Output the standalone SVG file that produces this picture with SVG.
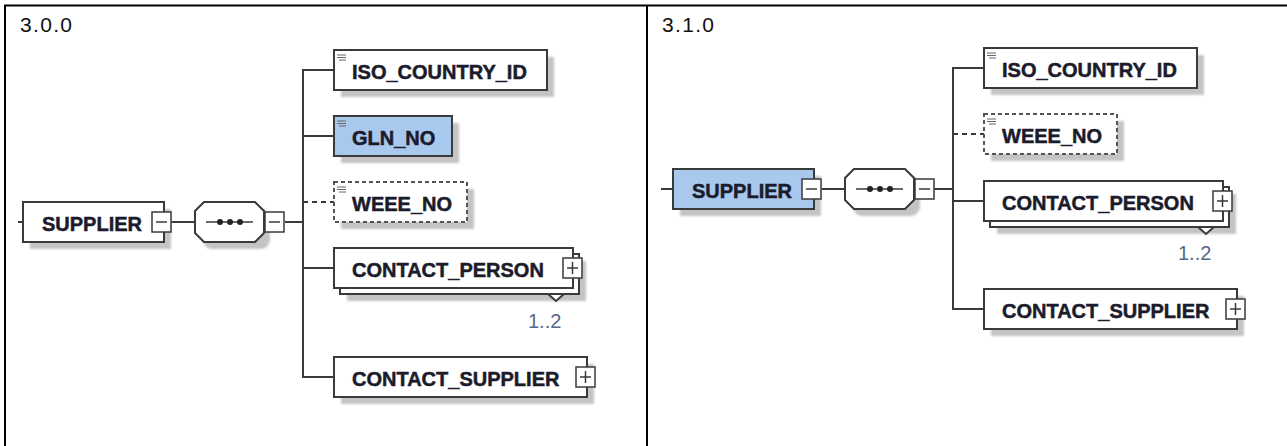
<svg xmlns="http://www.w3.org/2000/svg" width="1287" height="446" viewBox="0 0 1287 446">
  <style>
    .frame{fill:none;stroke:#000;stroke-width:2}
    .ver{font-family:"Liberation Sans",Arial,sans-serif;font-size:21px;fill:#111}
    .box{fill:#fff;stroke:#3a3a3a;stroke-width:2}
    .sel{fill:#a8c8ee}
    .opt{stroke-dasharray:4 3;stroke:#555}
    .sh{fill:#c4c4c4;filter:url(#soft)}
    .lbl{font-family:"Liberation Sans",Arial,sans-serif;font-weight:bold;font-size:20px;fill:#1b1b2b;stroke:#1b1b2b;stroke-width:0.5}
    .occ{font-family:"Liberation Sans",Arial,sans-serif;font-size:20px;fill:#56688a}
    .wire{fill:none;stroke:#3a3a3a;stroke-width:2}
    .dash{stroke-dasharray:5 4}
    .btn{fill:#fff;stroke:#3a3a3a;stroke-width:1.5}
    .sign{fill:none;stroke:#3a3a3a;stroke-width:1.5}
    .ico{fill:none;stroke:#666;stroke-width:1}
    .dot{fill:#222}
  </style>
  <defs>
    <filter id="soft" x="-10%" y="-20%" width="120%" height="140%">
      <feGaussianBlur stdDeviation="1.3"/>
    </filter>
    <g id="minus">
      <rect x="0" y="0" width="19" height="20" class="btn"/>
      <path d="M4 10H15" class="sign"/>
    </g>
    <g id="plus">
      <rect x="0" y="0" width="19" height="20" class="btn"/>
      <path d="M4 10H15M9.5 4V16" class="sign"/>
    </g>
    <path id="simple" d="M0 0h9M0 2.5h9M2 5h7" class="ico"/>
    <g id="seq">
      <polygon points="9,0 60,0 69,9 69,31 60,40 9,40 0,31 0,9" class="box"/>
      <path d="M11 20H58" class="sign"/>
      <circle cx="25" cy="20" r="3" class="dot"/>
      <circle cx="35" cy="20" r="3" class="dot"/>
      <circle cx="45" cy="20" r="3" class="dot"/>
    </g>
  </defs>

  <!-- table frame -->
  <g id="table">
    <path d="M4 5.5H1287M5 5V446M647 5V446" class="frame"/>
    <text x="20" y="32" class="ver" textLength="52">3.0.0</text>
    <text x="662" y="32" class="ver" textLength="52">3.1.0</text>
  </g>

  <!-- connectors -->
  <g id="connectors">
    <!-- version 3.0.0 -->
    <path d="M18 222H23M171 222H195M285 222H303" class="wire"/>
    <path d="M334 70H303V377H334M303 136H334M303 268H334" class="wire"/>
    <path d="M303 202H334" class="wire dash"/>
    <!-- version 3.1.0 -->
    <path d="M661 189H673M821 189H845M934 189H953" class="wire"/>
    <path d="M984 68H953V309H984M953 201H984" class="wire"/>
    <path d="M953 134H984" class="wire dash"/>
  </g>

  <!-- ===== 3.0.0 ===== -->
  <g id="v300-supplier">
    <rect x="30" y="209" width="141" height="40" class="sh"/>
    <rect x="23" y="202" width="141" height="40" class="box"/>
    <text x="42" y="230.5" class="lbl">SUPPLIER</text>
    <use href="#minus" x="152" y="212"/>
  </g>
  <g id="v300-sequence">
    <rect x="203" y="209" width="67" height="40" rx="9" class="sh"/>
    <use href="#seq" x="195" y="202"/>
    <use href="#minus" x="265" y="212"/>
  </g>
  <g id="v300-iso">
    <rect x="341" y="57" width="213" height="40" class="sh"/>
    <rect x="334" y="50" width="213" height="40" class="box"/>
    <use href="#simple" x="337" y="55"/>
    <text x="352" y="78.5" class="lbl">ISO_COUNTRY_ID</text>
  </g>
  <g id="v300-gln">
    <rect x="341" y="123" width="118" height="40" class="sh"/>
    <rect x="334" y="116" width="118" height="40" class="box sel"/>
    <use href="#simple" x="337" y="121"/>
    <text x="352" y="144.5" class="lbl">GLN_NO</text>
  </g>
  <g id="v300-weee">
    <rect x="341" y="189" width="133" height="40" class="sh"/>
    <rect x="334" y="182" width="133" height="40" class="box opt"/>
    <use href="#simple" x="337" y="187"/>
    <text x="352" y="210.5" class="lbl">WEEE_NO</text>
  </g>
  <g id="v300-contact-person">
    <rect x="347" y="261" width="239" height="40" class="sh"/>
    <rect x="340" y="254" width="239" height="40" class="box"/>
    <rect x="334" y="248" width="239" height="40" class="box"/>
    <text x="352" y="276.5" class="lbl">CONTACT_PERSON</text>
    <use href="#plus" x="563" y="258"/>
    <polygon points="548,294 556,301 564,294" class="box"/>
    <text x="528" y="327.5" class="occ">1..2</text>
  </g>
  <g id="v300-contact-supplier">
    <rect x="341" y="364" width="253" height="40" class="sh"/>
    <rect x="334" y="357" width="253" height="40" class="box"/>
    <text x="352" y="385.5" class="lbl">CONTACT_SUPPLIER</text>
    <use href="#plus" x="576" y="367"/>
  </g>

  <!-- ===== 3.1.0 ===== -->
  <g id="v310-supplier">
    <rect x="680" y="176" width="141" height="40" class="sh"/>
    <rect x="673" y="169" width="141" height="40" class="box sel"/>
    <text x="692" y="197.5" class="lbl">SUPPLIER</text>
    <use href="#minus" x="802" y="179"/>
  </g>
  <g id="v310-sequence">
    <rect x="853" y="176" width="67" height="40" rx="9" class="sh"/>
    <use href="#seq" x="845" y="169"/>
    <use href="#minus" x="915" y="179"/>
  </g>
  <g id="v310-iso">
    <rect x="991" y="55" width="213" height="40" class="sh"/>
    <rect x="984" y="48" width="213" height="40" class="box"/>
    <use href="#simple" x="987" y="53"/>
    <text x="1002" y="76.5" class="lbl">ISO_COUNTRY_ID</text>
  </g>
  <g id="v310-weee">
    <rect x="991" y="121" width="133" height="40" class="sh"/>
    <rect x="984" y="114" width="133" height="40" class="box opt"/>
    <use href="#simple" x="987" y="119"/>
    <text x="1002" y="142.5" class="lbl">WEEE_NO</text>
  </g>
  <g id="v310-contact-person">
    <rect x="997" y="194" width="239" height="40" class="sh"/>
    <rect x="990" y="187" width="239" height="40" class="box"/>
    <rect x="984" y="181" width="239" height="40" class="box"/>
    <text x="1002" y="209.5" class="lbl">CONTACT_PERSON</text>
    <use href="#plus" x="1213" y="191"/>
    <polygon points="1198,227 1206,234 1214,227" class="box"/>
    <text x="1178" y="260" class="occ">1..2</text>
  </g>
  <g id="v310-contact-supplier">
    <rect x="991" y="296" width="253" height="40" class="sh"/>
    <rect x="984" y="289" width="253" height="40" class="box"/>
    <text x="1002" y="317.5" class="lbl">CONTACT_SUPPLIER</text>
    <use href="#plus" x="1226" y="299"/>
  </g>
</svg>
